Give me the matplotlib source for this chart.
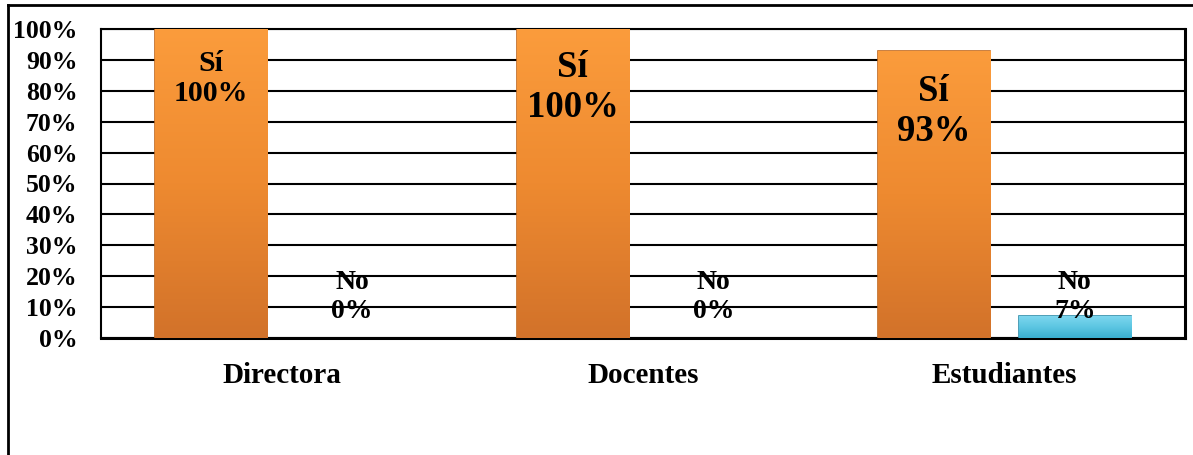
import numpy as np
import matplotlib.pyplot as plt
from matplotlib.lines import Line2D
from matplotlib.colors import LinearSegmentedColormap

categories = ['Directora', 'Docentes', 'Estudiantes']
si_values = [100, 100, 93]
no_values = [0, 0, 7]
yticks = [0, 10, 20, 30, 40, 50, 60, 70, 80, 90, 100]

plt.rcParams['font.family'] = ['Liberation Serif', 'DejaVu Serif']
plt.rcParams['font.weight'] = 'bold'

fig = plt.figure(figsize=(11.93, 4.55), dpi=100)
ax = fig.add_axes([101 / 1193, 1 - 338 / 455, 1084 / 1193, 309 / 455])

x = np.arange(len(categories))
width = 0.31
off = 0.195

orange = LinearSegmentedColormap.from_list('o', ['#d2722a', '#ee8a30', '#fb9c3c'])
blue = LinearSegmentedColormap.from_list('b', ['#3aaed0', '#5cc6e2', '#7dd6ee'])


def gradient_bars(bars, cmap, edge):
    for b in bars:
        h = b.get_height()
        if h <= 0:
            b.set_visible(False)
            continue
        bx, by = b.get_x(), b.get_y()
        grad = np.linspace(0, 1, 256).reshape(-1, 1)
        im = ax.imshow(grad, cmap=cmap, origin='lower', aspect='auto',
                       extent=[bx, bx + b.get_width(), by, by + h], zorder=3)
        im.set_clip_path(b)
        b.set_edgecolor(edge)
        b.set_linewidth(1.2)


bars_si = ax.bar(x - off, si_values, width, color='#f08c32', zorder=3)
bars_no = ax.bar(x + off, no_values, width, color='#5cc6e2', zorder=3)
gradient_bars(bars_si, orange, '#c0681f')
gradient_bars(bars_no, blue, '#2f8eaa')

ax.set_xlim(-0.5, 2.5)
ax.set_ylim(0, 100)
ax.set_yticks(yticks)
ax.set_yticklabels(['{}%'.format(v) for v in yticks], fontsize=18.5, fontweight='bold')
ax.set_xticks(x)
ax.set_xticklabels(categories, fontsize=21, fontweight='bold')
ax.tick_params(axis='y', length=0, pad=17)
ax.tick_params(axis='x', length=0, pad=17)
ax.yaxis.grid(True, color='black', linewidth=1.5, zorder=1)
ax.set_axisbelow(True)
for s in ['left', 'right', 'top']:
    ax.spines[s].set_linewidth(1.5)
ax.spines['bottom'].set_linewidth(2.2)
ax.spines['right'].set_linewidth(2.2)

# data labels
si_sizes = [21.5, 26.5, 26.5]
si_ypos = [84, 81, 73.2]
for i in range(len(categories)):
    ax.text(x[i] - off, si_ypos[i], 'Sí\n{}%'.format(si_values[i]),
            ha='center', va='center', fontsize=si_sizes[i], fontweight='bold',
            linespacing=1.18, zorder=5)
    ax.text(x[i] + off, 13.2, 'No\n{}%'.format(no_values[i]),
            ha='center', va='center', fontsize=20, fontweight='bold',
            linespacing=1.2, zorder=5)

# outer frame
fig.add_artist(Line2D([8 / 1193, 8 / 1193], [0, 1 - 5 / 455], color='black', lw=2))
fig.add_artist(Line2D([8 / 1193, 1], [1 - 5 / 455, 1 - 5 / 455], color='black', lw=2))

fig.savefig('out.png', dpi=100)
